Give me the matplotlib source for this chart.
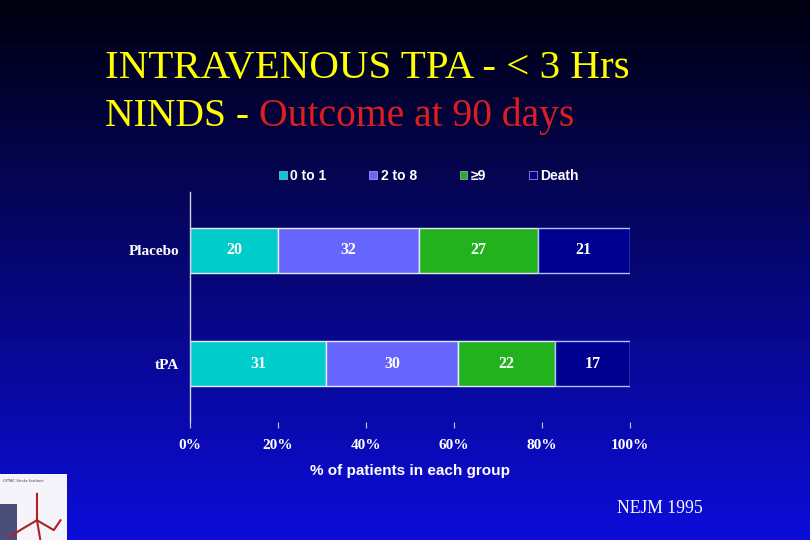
import numpy as np
import matplotlib
matplotlib.use('Agg')
import matplotlib.pyplot as plt
from matplotlib.patches import Rectangle

# data
groups = ['tPA', 'Placebo']
categories = ['0 to 1', '2 to 8', '\u22659', 'Death']
values = {
    '0 to 1': [31, 20],
    '2 to 8': [30, 32],
    '\u22659': [22, 27],
    'Death': [17, 21],
}
colors = ['#00CCCC', '#6666FF', '#22B21E', '#000090']
ticks = [0, 20, 40, 60, 80, 100]
tick_labels = ['0%', '20%', '40%', '60%', '80%', '100%']

fig = plt.figure(figsize=(8.1, 5.4), dpi=100)

# background gradient, black at top to blue at bottom
bg = fig.add_axes([0, 0, 1, 1], zorder=-10)
grad = np.linspace(0, 1, 256).reshape(-1, 1)
top = np.array([0.0, 0.0, 0.06])
bot = np.array([0.05, 0.05, 0.86])
img = top + (bot - top) * grad[..., None]
bg.imshow(img, aspect='auto', extent=[0, 1, 0, 1], origin='upper')
bg.set_xlim(0, 1)
bg.set_ylim(0, 1)
bg.axis('off')

# title
serif = 'Liberation Serif'
fig.text(0.130, 0.873, 'INTRAVENOUS TPA - < 3 Hrs', color='#FFFF00',
         fontsize=29.5, family=serif, va='center', ha='left')
t = fig.text(0.130, 0.784, 'NINDS - ', color='#FFFF00',
             fontsize=28.5, family=serif, va='center', ha='left')
fig.canvas.draw()
bb = t.get_window_extent()
fig.text(bb.x1 / fig.bbox.width, 0.784, 'Outcome at 90 days', color='#DC1E1E',
         fontsize=28.5, family=serif, va='center', ha='left')

# chart
ax = fig.add_axes([0.2346, 0.2185, 0.5432, 0.426])
ax.set_facecolor('none')
y = np.arange(len(groups))
left = np.zeros(len(groups))
for cat, col in zip(categories, colors):
    v = np.array(values[cat])
    ec = '#AFC0FF' if cat == 'Death' else '#E8E8F8'
    ax.barh(y, v, left=left, height=0.395, color=col, edgecolor=ec, linewidth=1.0)
    for yi, (l, vi) in enumerate(zip(left, v)):
        ax.text(l + vi / 2, yi, str(vi), ha='center', va='center',
                color='white', fontsize=11.5, fontweight='bold', family=serif)
    left += v

ax.set_xlim(0, 100)
ax.set_ylim(-0.51, 1.51)
ax.set_xticks(ticks)
ax.set_xticklabels(tick_labels, family=serif, fontweight='bold', fontsize=11, color='white')
ax.set_yticks(y)
ax.set_yticklabels(groups, family=serif, fontweight='bold', fontsize=11, color='white')
ax.tick_params(axis='x', length=4, color='#C8C8E8', pad=8, direction='out')
ax.tick_params(axis='y', length=0, pad=8)
for s in ['top', 'right', 'bottom']:
    ax.spines[s].set_visible(False)
ax.spines['left'].set_color('#D0D0E8')
ax.spines['left'].set_linewidth(1.0)
ax.set_xlabel('% of patients in each group', family='Liberation Sans', fontweight='bold',
              fontsize=11, color='white', labelpad=9)

# legend
handles = [Rectangle((0, 0), 1, 1, facecolor=c, edgecolor='#B0B0E0', linewidth=0.5)
           for c in colors]
leg = ax.legend(handles, categories, loc='center', bbox_to_anchor=(0.543, 1.07),
                ncol=4, frameon=False, handlelength=0.55, handleheight=0.55,
                handletextpad=0.25, columnspacing=3.1, borderpad=0,
                prop={'family': 'Liberation Sans', 'weight': 'bold', 'size': 10})
for txt in leg.get_texts():
    txt.set_color('white')

# source
fig.text(0.762, 0.059, 'NEJM 1995', color='white', fontsize=12.7, family=serif,
         va='center', ha='left')

# logo placeholder in the corner
logo = fig.add_axes([0.0, 0.0, 0.083, 0.122])
logo.set_xlim(0, 1)
logo.set_ylim(0, 1)
logo.add_patch(Rectangle((0, 0), 1, 1, facecolor='#F4F4FA', edgecolor='none'))
logo.add_patch(Rectangle((0, 0), 0.25, 0.55, facecolor='#4A4E78', edgecolor='none'))
logo.plot([0.55, 0.55, 0.3, 0.15], [0.7, 0.3, 0.15, 0.05], color='#B02020', lw=1.5)
logo.plot([0.55, 0.8, 0.9], [0.3, 0.15, 0.3], color='#B02020', lw=1.5)
logo.plot([0.55, 0.6], [0.3, 0.0], color='#B02020', lw=1.5)
logo.text(0.05, 0.9, 'UPMC Stroke Institute', fontsize=3.2, family=serif,
          color='#333355', va='center', style='italic')
logo.axis('off')

fig.savefig('out.png', dpi=100, facecolor='black')
